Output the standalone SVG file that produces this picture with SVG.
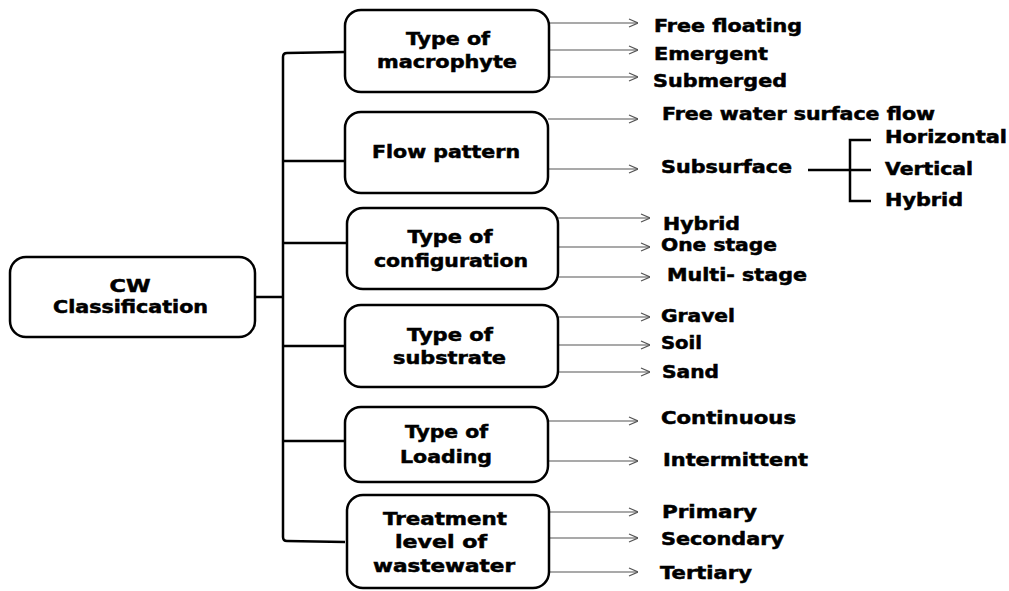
<svg xmlns="http://www.w3.org/2000/svg" width="1009" height="591" viewBox="0 0 1009 591">
<defs>
<style>
.box{fill:#fff;stroke:#000;stroke-width:2.5}
.t{font-family:"DejaVu Sans","Liberation Sans",sans-serif;font-weight:bold;font-size:17px;fill:#000;stroke:#000;stroke-width:0.5}
.c{text-anchor:middle}
.trunk{fill:none;stroke:#000;stroke-width:2.5}
.arr{fill:none;stroke:#555;stroke-width:1.2;marker-end:url(#ah)}
</style>
<marker id="ah" viewBox="0 0 10 10" refX="10" refY="5" markerWidth="10" markerHeight="10" markerUnits="userSpaceOnUse" orient="auto">
<path d="M1,1 L10,5 L1,9" fill="none" stroke="#555" stroke-width="1.2"/>
</marker>
</defs>
<rect width="1009" height="591" fill="#fff"/>

<g id="connectors">
<path class="trunk" d="M345,52 L287,53 Q283,53 283,57 V537 Q283,541 287,541 L345,542"/>
<path class="trunk" d="M255,297 H283 M283,161 H345 M283,243 H347 M283,346 H345 M283,441 H345"/>
<line class="arr" x1="549" y1="23" x2="638" y2="23"/>
<line class="arr" x1="549" y1="50" x2="638" y2="50"/>
<line class="arr" x1="549" y1="77" x2="638" y2="77"/>
<line class="arr" x1="548" y1="119" x2="638" y2="119"/>
<line class="arr" x1="548" y1="169" x2="638" y2="169"/>
<line class="arr" x1="558" y1="218" x2="650" y2="218"/>
<line class="arr" x1="558" y1="247" x2="650" y2="247"/>
<line class="arr" x1="558" y1="277" x2="650" y2="277"/>
<line class="arr" x1="558" y1="317" x2="650" y2="317"/>
<line class="arr" x1="558" y1="345" x2="650" y2="345"/>
<line class="arr" x1="558" y1="372" x2="650" y2="372"/>
<line class="arr" x1="548" y1="421" x2="638" y2="421"/>
<line class="arr" x1="548" y1="461" x2="638" y2="461"/>
<line class="arr" x1="549" y1="512" x2="638" y2="512"/>
<line class="arr" x1="549" y1="538" x2="638" y2="538"/>
<line class="arr" x1="549" y1="572" x2="638" y2="572"/>
<path class="trunk" d="M808,170 H850 M871,140 H850 V201 H871 M850,170 H871"/>
</g>

<g id="cw">
<rect class="box" x="10" y="257" width="245" height="80" rx="16"/>
<text class="t c" x="130" y="292" textLength="41" lengthAdjust="spacingAndGlyphs">CW</text>
<text class="t c" x="130.5" y="313" textLength="155" lengthAdjust="spacingAndGlyphs">Classification</text>
</g>

<g id="macrophyte">
<rect class="box" x="345" y="10" width="204" height="82" rx="16"/>
<text class="t c" x="448" y="45" textLength="84" lengthAdjust="spacingAndGlyphs">Type of</text>
<text class="t c" x="447" y="68" textLength="140" lengthAdjust="spacingAndGlyphs">macrophyte</text>
</g>

<g id="flow">
<rect class="box" x="345" y="112" width="203" height="81" rx="16"/>
<text class="t c" x="446" y="158" textLength="148" lengthAdjust="spacingAndGlyphs">Flow pattern</text>
</g>

<g id="configuration">
<rect class="box" x="347" y="208" width="211" height="81" rx="16"/>
<text class="t c" x="450" y="243" textLength="85" lengthAdjust="spacingAndGlyphs">Type of</text>
<text class="t c" x="451" y="267" textLength="154" lengthAdjust="spacingAndGlyphs">configuration</text>
</g>

<g id="substrate">
<rect class="box" x="345" y="305" width="213" height="82" rx="16"/>
<text class="t c" x="450" y="341" textLength="86" lengthAdjust="spacingAndGlyphs">Type of</text>
<text class="t c" x="449.5" y="364" textLength="113" lengthAdjust="spacingAndGlyphs">substrate</text>
</g>

<g id="loading">
<rect class="box" x="345" y="407" width="203" height="75" rx="16"/>
<text class="t c" x="446.5" y="438" textLength="83" lengthAdjust="spacingAndGlyphs">Type of</text>
<text class="t c" x="446" y="463" textLength="92" lengthAdjust="spacingAndGlyphs">Loading</text>
</g>

<g id="treatment">
<rect class="box" x="347" y="495" width="202" height="93" rx="16"/>
<text class="t c" x="445" y="525" textLength="124" lengthAdjust="spacingAndGlyphs">Treatment</text>
<text class="t c" x="441" y="548" textLength="92" lengthAdjust="spacingAndGlyphs">level of</text>
<text class="t c" x="444" y="572" textLength="142" lengthAdjust="spacingAndGlyphs">wastewater</text>
</g>

<g id="leaves">
<text class="t" x="654" y="32" textLength="148" lengthAdjust="spacingAndGlyphs">Free floating</text>
<text class="t" x="654" y="60" textLength="114" lengthAdjust="spacingAndGlyphs">Emergent</text>
<text class="t" x="653" y="87" textLength="134" lengthAdjust="spacingAndGlyphs">Submerged</text>
<text class="t" x="662" y="120" textLength="273" lengthAdjust="spacingAndGlyphs">Free water surface flow</text>
<text class="t" x="661" y="173" textLength="131" lengthAdjust="spacingAndGlyphs">Subsurface</text>
<text class="t" x="885" y="143" textLength="122" lengthAdjust="spacingAndGlyphs">Horizontal</text>
<text class="t" x="885" y="175" textLength="88" lengthAdjust="spacingAndGlyphs">Vertical</text>
<text class="t" x="885" y="206" textLength="78" lengthAdjust="spacingAndGlyphs">Hybrid</text>
<text class="t" x="663" y="230" textLength="77" lengthAdjust="spacingAndGlyphs">Hybrid</text>
<text class="t" x="661" y="251" textLength="116" lengthAdjust="spacingAndGlyphs">One stage</text>
<text class="t" x="667" y="281" textLength="140" lengthAdjust="spacingAndGlyphs">Multi- stage</text>
<text class="t" x="661" y="322" textLength="74" lengthAdjust="spacingAndGlyphs">Gravel</text>
<text class="t" x="661" y="349" textLength="41" lengthAdjust="spacingAndGlyphs">Soil</text>
<text class="t" x="662" y="378" textLength="57" lengthAdjust="spacingAndGlyphs">Sand</text>
<text class="t" x="661" y="424" textLength="135" lengthAdjust="spacingAndGlyphs">Continuous</text>
<text class="t" x="663" y="466" textLength="145" lengthAdjust="spacingAndGlyphs">Intermittent</text>
<text class="t" x="662" y="518" textLength="95" lengthAdjust="spacingAndGlyphs">Primary</text>
<text class="t" x="661" y="545" textLength="123" lengthAdjust="spacingAndGlyphs">Secondary</text>
<text class="t" x="660" y="579" textLength="92" lengthAdjust="spacingAndGlyphs">Tertiary</text>
</g>
</svg>
